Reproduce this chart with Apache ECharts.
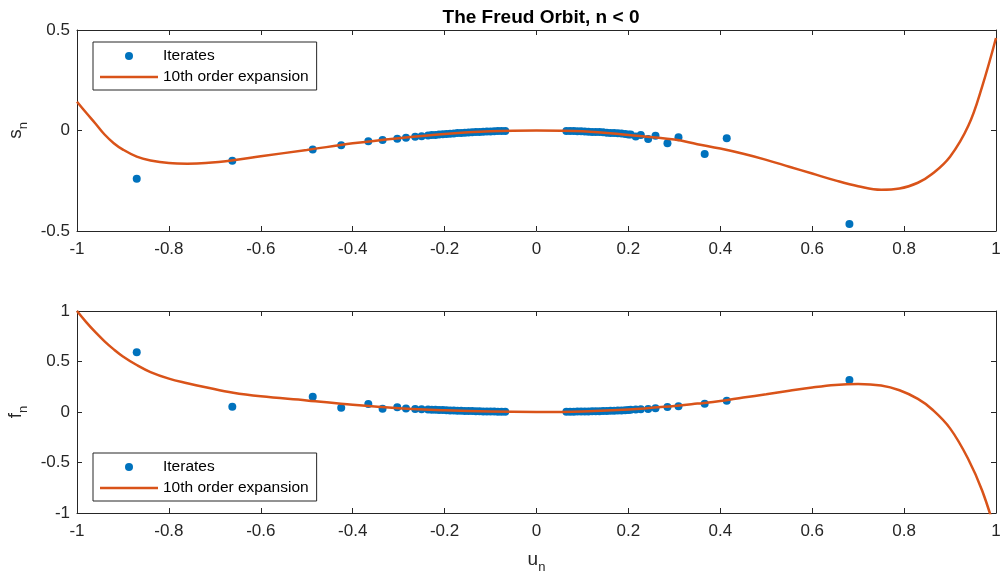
<!DOCTYPE html>
<html>
<head>
<meta charset="utf-8">
<script src="https://cdn.jsdelivr.net/npm/echarts@6/dist/echarts.min.js"></script>
<style>
  html, body { margin: 0; padding: 0; background: #fff; }
  #chart { width: 1000px; height: 573px; }
</style>
</head>
<body>
<div id="chart"></div>
<script>
// iterates (u_n, s_n, f_n)
const uIter = [-0.870, -0.662, -0.487, -0.425, -0.366, -0.335, -0.303, -0.284, -0.264, -0.250,
  -0.236, -0.228, -0.220, -0.212, -0.204, -0.196, -0.188, -0.180, -0.172, -0.164, -0.156,
  -0.148, -0.140, -0.132, -0.124, -0.116, -0.108, -0.100, -0.092, -0.084, -0.076, -0.068,
  0.065, 0.073, 0.081, 0.089, 0.097, 0.105, 0.113, 0.121, 0.129, 0.137, 0.145, 0.153,
  0.161, 0.169, 0.177, 0.185, 0.193,
  0.200, 0.205, 0.216, 0.227, 0.243, 0.259, 0.285, 0.309, 0.366, 0.414, 0.681];
const sIter = [-0.240, -0.150, -0.094, -0.074, -0.054, -0.047, -0.041, -0.036, -0.031, -0.028,
  -0.025, -0.023, -0.022, -0.020, -0.019, -0.017, -0.016, -0.015, -0.013, -0.012, -0.011,
  -0.010, -0.009, -0.008, -0.007, -0.006, -0.005, -0.005, -0.004, -0.003, -0.003, -0.002,
  -0.002, -0.002, -0.003, -0.004, -0.004, -0.005, -0.006, -0.007, -0.008, -0.008, -0.009, -0.011,
  -0.012, -0.013, -0.014, -0.015, -0.017,
  -0.020, -0.020, -0.030, -0.022, -0.042, -0.026, -0.064, -0.034, -0.117, -0.039, -0.465];
const fIter = [0.591, 0.053, 0.152, 0.043, 0.079, 0.033, 0.046, 0.035, 0.030, 0.028,
  0.025, 0.023, 0.022, 0.020, 0.019, 0.017, 0.016, 0.015, 0.013, 0.012, 0.011,
  0.010, 0.009, 0.008, 0.007, 0.006, 0.005, 0.005, 0.004, 0.003, 0.003, 0.002,
  0.002, 0.002, 0.003, 0.004, 0.004, 0.005, 0.006, 0.007, 0.008, 0.008, 0.009, 0.011,
  0.012, 0.013, 0.014, 0.015, 0.017,
  0.020, 0.022, 0.025, 0.027, 0.030, 0.036, 0.050, 0.056, 0.082, 0.112, 0.317];

// 10th order expansion
const uCurve = [-1, -0.98, -0.96, -0.94, -0.92, -0.9, -0.87, -0.84, -0.8, -0.76, -0.72, -0.66,
  -0.6, -0.5, -0.4, -0.3, -0.2, -0.1, 0, 0.1, 0.2, 0.3, 0.35, 0.4, 0.45, 0.5, 0.55, 0.6,
  0.65, 0.7, 0.75, 0.79, 0.83, 0.86, 0.9, 0.94, 0.97, 1.0];
const sCurve = [0.143, 0.088, 0.035, -0.020, -0.063, -0.095, -0.130, -0.149, -0.162, -0.165, -0.162, -0.148,
  -0.128, -0.097, -0.064, -0.038, -0.017, -0.004, 0, -0.004, -0.022, -0.045, -0.068, -0.090, -0.116, -0.146, -0.180, -0.214,
  -0.248, -0.277, -0.295, -0.289, -0.260, -0.218, -0.130, 0.025, 0.220, 0.460];
const fCurve = [1.0, 0.89, 0.79, 0.70, 0.62, 0.55, 0.465, 0.395, 0.33, 0.285, 0.245, 0.19,
  0.155, 0.115, 0.072, 0.038, 0.017, 0.004, 0, 0.005, 0.024, 0.060, 0.083, 0.108, 0.143, 0.175, 0.210, 0.243,
  0.268, 0.277, 0.262, 0.215, 0.130, 0.030, -0.162, -0.47, -0.78, -1.2];

const xTicks = { min: -1, max: 1, interval: 0.2 };
const topYTicks = { min: -0.5, max: 0.5, interval: 0.5 };
const botYTicks = { min: -1, max: 1, interval: 0.5 };

const axisCol = '#262626';
const blue = '#0072BD';
const orange = '#D95319';

function zip(a, b) {
  return a.map((v, i) => [v, b[i]]);
}

function subName(base, sub) {
  return '{b|' + base + '}{s|' + sub + '}';
}
const nameRich = {
  b: { fontSize: 19, lineHeight: 19, color: axisCol, verticalAlign: 'bottom', padding: [0, 0, 5, 0] },
  s: { fontSize: 13, lineHeight: 13, color: axisCol, verticalAlign: 'bottom' }
};

function xAx(grid, bottom, extra) {
  return Object.assign({
    type: 'value', gridIndex: grid, position: bottom ? 'bottom' : 'top',
    min: xTicks.min, max: xTicks.max, interval: xTicks.interval,
    axisLine: { show: true, onZero: false, lineStyle: { color: axisCol, width: 1 } },
    axisTick: { show: true, inside: true, length: 5, lineStyle: { color: axisCol } },
    axisLabel: { show: bottom, fontSize: 17, color: axisCol, margin: 10, showMinLabel: true, showMaxLabel: true },
    splitLine: { show: false }
  }, extra || {});
}
function yAx(grid, left, t, extra) {
  return Object.assign({
    type: 'value', gridIndex: grid, position: left ? 'left' : 'right',
    min: t.min, max: t.max, interval: t.interval,
    axisLine: { show: true, onZero: false, lineStyle: { color: axisCol, width: 1 } },
    axisTick: { show: true, inside: true, length: 5, lineStyle: { color: axisCol } },
    axisLabel: { show: left, fontSize: 17, color: axisCol, margin: 7, showMinLabel: true, showMaxLabel: true },
    splitLine: { show: false }
  }, extra || {});
}

function legendAt(top) {
  return {
    orient: 'vertical', left: 93, top: top,
    data: [
      { name: 'Iterates', icon: 'circle' },
      { name: '10th order expansion', icon: 'path://M0,0 L58,0 L58,2.5 L0,2.5 Z' }
    ],
    backgroundColor: '#fff', borderColor: axisCol, borderWidth: 1, borderRadius: 0,
    padding: [6, 8, 5, 7], itemGap: 5, itemWidth: 58, itemHeight: 8,
    textStyle: { fontSize: 15.5, lineHeight: 16, color: '#000' },
    selectedMode: false
  };
}

const chart = echarts.init(document.getElementById('chart'));
chart.setOption({
  animation: false,
  textStyle: { fontFamily: '"Liberation Sans", Arial, Helvetica, sans-serif' },
  title: {
    text: 'The Freud Orbit, n < 0', left: 536, top: 3, textAlign: 'center',
    textStyle: { fontSize: 19, fontWeight: 'bold', color: '#000' }
  },
  legend: [legendAt(42), legendAt(453)],
  grid: [
    { left: 77, right: 4, top: 30, height: 201, outerBoundsMode: 'none' },
    { left: 77, right: 4, top: 311, height: 202, outerBoundsMode: 'none' }
  ],
  xAxis: [
    xAx(0, true),
    xAx(0, false),
    xAx(1, true, {
      name: subName('u', 'n'), nameLocation: 'middle', nameGap: 42,
      nameTextStyle: { rich: nameRich }
    }),
    xAx(1, false)
  ],
  yAxis: [
    yAx(0, true, topYTicks, {
      name: subName('s', 'n'), nameLocation: 'middle', nameRotate: 90, nameGap: 42,
      nameTextStyle: { rich: nameRich }
    }),
    yAx(0, false, topYTicks),
    yAx(1, true, botYTicks, {
      name: subName('f', 'n'), nameLocation: 'middle', nameRotate: 90, nameGap: 42,
      nameTextStyle: { rich: nameRich }
    }),
    yAx(1, false, botYTicks)
  ],
  series: [
    {
      name: 'Iterates', type: 'scatter', xAxisIndex: 0, yAxisIndex: 0,
      symbol: 'circle', symbolSize: 8, itemStyle: { color: blue, opacity: 1 },
      data: zip(uIter, sIter), z: 2
    },
    {
      name: '10th order expansion', type: 'line', xAxisIndex: 0, yAxisIndex: 0,
      symbol: 'none', smooth: 0.4, lineStyle: { color: orange, width: 2.5 }, itemStyle: { color: orange },
      data: zip(uCurve, sCurve), z: 3
    },
    {
      name: 'Iterates', type: 'scatter', xAxisIndex: 2, yAxisIndex: 2,
      symbol: 'circle', symbolSize: 8, itemStyle: { color: blue, opacity: 1 },
      data: zip(uIter, fIter), z: 2
    },
    {
      name: '10th order expansion', type: 'line', xAxisIndex: 2, yAxisIndex: 2,
      symbol: 'none', smooth: 0.4, clip: true, lineStyle: { color: orange, width: 2.5 }, itemStyle: { color: orange },
      data: zip(uCurve, fCurve), z: 3
    }
  ]
});
</script>
</body>
</html>
